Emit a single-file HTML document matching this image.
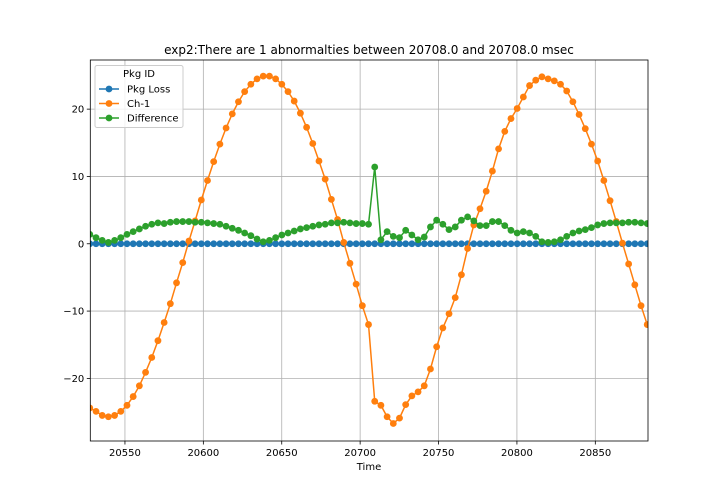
<!DOCTYPE html>
<html><head><meta charset="utf-8"><style>
body{margin:0;background:#fff}
svg{display:block;font-family:"DejaVu Sans","Liberation Sans",sans-serif}
</style></head><body>
<svg id="chart" width="720" height="504" xmlns="http://www.w3.org/2000/svg">
<rect width="720" height="504" fill="#fff"/>
<text x="369" y="54" text-anchor="middle" font-size="12">exp2:There are 1 abnormalties between 20708.0 and 20708.0 msec</text>
<g id="grid"></g>
<g id="series"></g>
<g id="axes"></g>
<text x="369" y="470" text-anchor="middle" font-size="10">Time</text>
<g>
<rect x="95" y="65.5" width="88" height="62" rx="2" fill="#fff" fill-opacity="0.8" stroke="#ccc"/>
<text x="139" y="77" text-anchor="middle" font-size="10">Pkg ID</text>
<g><line x1="99" y1="89" x2="119" y2="89" stroke="#1f77b4" stroke-width="1.5"/><circle cx="109" cy="89" r="3.4" fill="#1f77b4"/><text x="127" y="92.5" font-size="10">Pkg Loss</text></g>
<g><line x1="99" y1="103.5" x2="119" y2="103.5" stroke="#ff7f0e" stroke-width="1.5"/><circle cx="109" cy="103.5" r="3.4" fill="#ff7f0e"/><text x="127" y="107" font-size="10">Ch-1</text></g>
<g><line x1="99" y1="118" x2="119" y2="118" stroke="#2ca02c" stroke-width="1.5"/><circle cx="109" cy="118" r="3.4" fill="#2ca02c"/><text x="127" y="121.5" font-size="10">Difference</text></g>
</g>
</svg>
<script>
const xTicks=[20550,20600,20650,20700,20750,20800,20850];
const yTicks=[-20,-10,0,10,20];
const tStart=20527.6, tStep=3.95;
const ch1=[-24.4,-24.9,-25.5,-25.7,-25.5,-24.9,-24.0,-22.7,-21.1,-19.1,-16.9,-14.4,-11.7,-8.9,-5.8,-2.8,0.4,3.4,6.5,9.4,12.2,14.8,17.2,19.3,21.1,22.6,23.7,24.5,24.9,24.9,24.5,23.7,22.6,21.2,19.4,17.3,14.9,12.3,9.6,6.6,3.6,0.2,-2.9,-6.0,-9.2,-12.0,
-23.4,-24.0,-25.7,-26.7,-25.9,-23.9,-22.6,-22.0,-21.1,-18.6,-15.3,-12.5,-10.4,-8.0,-4.6,-0.7,2.8,5.2,7.8,10.8,14.1,16.7,18.6,20.1,21.8,23.5,24.3,24.8,24.5,24.2,23.7,22.7,21.1,19.2,17.1,14.8,12.3,9.4,6.4,3.3,0.1,-3.0,-6.1,-9.2,-12.0];
const diff=[1.4,0.9,0.5,0.2,0.5,0.9,1.4,1.8,2.2,2.6,2.9,3.1,3.0,3.2,3.3,3.3,3.3,3.2,3.2,3.1,3.0,2.9,2.6,2.3,2.0,1.6,1.2,0.7,0.3,0.5,0.9,1.3,1.6,1.9,2.2,2.4,2.6,2.8,2.9,3.1,3.1,3.2,3.1,3.0,3.0,2.9,
11.4,0.6,1.8,1.1,0.9,2.0,1.3,0.6,1.0,2.5,3.5,2.9,2.1,2.5,3.5,4.0,3.4,2.7,2.7,3.3,3.3,2.7,2.0,1.6,1.8,1.6,1.1,0.3,0.2,0.3,0.6,1.1,1.6,1.9,2.1,2.4,2.8,3.0,3.1,3.1,3.1,3.2,3.2,3.1,3.0];
const pkgLoss=[0,0,0,0,0,0,0,0,0,0,0,0,0,0,0,0,0,0,0,0,0,0,0,0,0,0,0,0,0,0,0,0,0,0,0,0,0,0,0,0,0,0,0,0,0,0,0,0,0,0,0,0,0,0,0,0,0,0,0,0,0,0,0,0,0,0,0,0,0,0,0,0,0,0,0,0,0,0,0,0,0,0,0,0,0,0,0,0,0,0,0];
const L=90.3,R=648,T=60,B=441;
const xMin=20527.9,xMax=20883.6,yMin=-29.3,yMax=27.3;
function sx(v){return L+(v-xMin)/(xMax-xMin)*(R-L);}
function sy(v){return B-(v-yMin)/(yMax-yMin)*(B-T);}
const NS="http://www.w3.org/2000/svg";
function mk(tag,attrs,parent){const e=document.createElementNS(NS,tag);for(const k in attrs)e.setAttribute(k,attrs[k]);parent.appendChild(e);return e;}
const grid=document.getElementById('grid'),axes=document.getElementById('axes'),ser=document.getElementById('series');
xTicks.forEach(v=>{const x=sx(v);
const g=mk('line',{x1:x,x2:x,y1:T,y2:B,stroke:'#b0b0b0','stroke-width':0.8},grid);


mk('line',{x1:x,x2:x,y1:B,y2:B+3.5,stroke:'#000','stroke-width':0.8},axes);
const t=mk('text',{x:x,y:B+15,'text-anchor':'middle','font-size':10},axes);t.textContent=v;

});
yTicks.forEach(v=>{const y=sy(v);
const g=mk('line',{x1:L,x2:R,y1:y,y2:y,stroke:'#b0b0b0','stroke-width':0.8},grid);


mk('line',{x1:L-3.5,x2:L,y1:y,y2:y,stroke:'#000','stroke-width':0.8},axes);
const t=mk('text',{x:L-6,y:y+3.5,'text-anchor':'end','font-size':10},axes);t.textContent=String(v).replace('-','\u2212');

});
const fr=mk('rect',{x:L,y:T,width:R-L,height:B-T,fill:'none',stroke:'#000','stroke-width':0.8},axes);


mk('clipPath',{id:'clip'},ser);
mk('rect',{x:L,y:T,width:R-L,height:B-T},document.getElementById('clip'));
function draw(arr,color,name){
const g=mk('g',{'clip-path':'url(#clip)'},ser);


const pts=arr.map((v,i)=>sx(tStart+tStep*i).toFixed(2)+','+sy(v).toFixed(2)).join(' ');
const pl=mk('polyline',{points:pts,fill:'none',stroke:color,'stroke-width':1.5},g);


arr.forEach((v,i)=>{const c=mk('circle',{cx:sx(tStart+tStep*i),cy:sy(v),r:3.4,fill:color},g);

});}
draw(pkgLoss,'#1f77b4','pkg-loss');
draw(ch1,'#ff7f0e','ch-1');
draw(diff,'#2ca02c','difference');
</script>
</body></html>
